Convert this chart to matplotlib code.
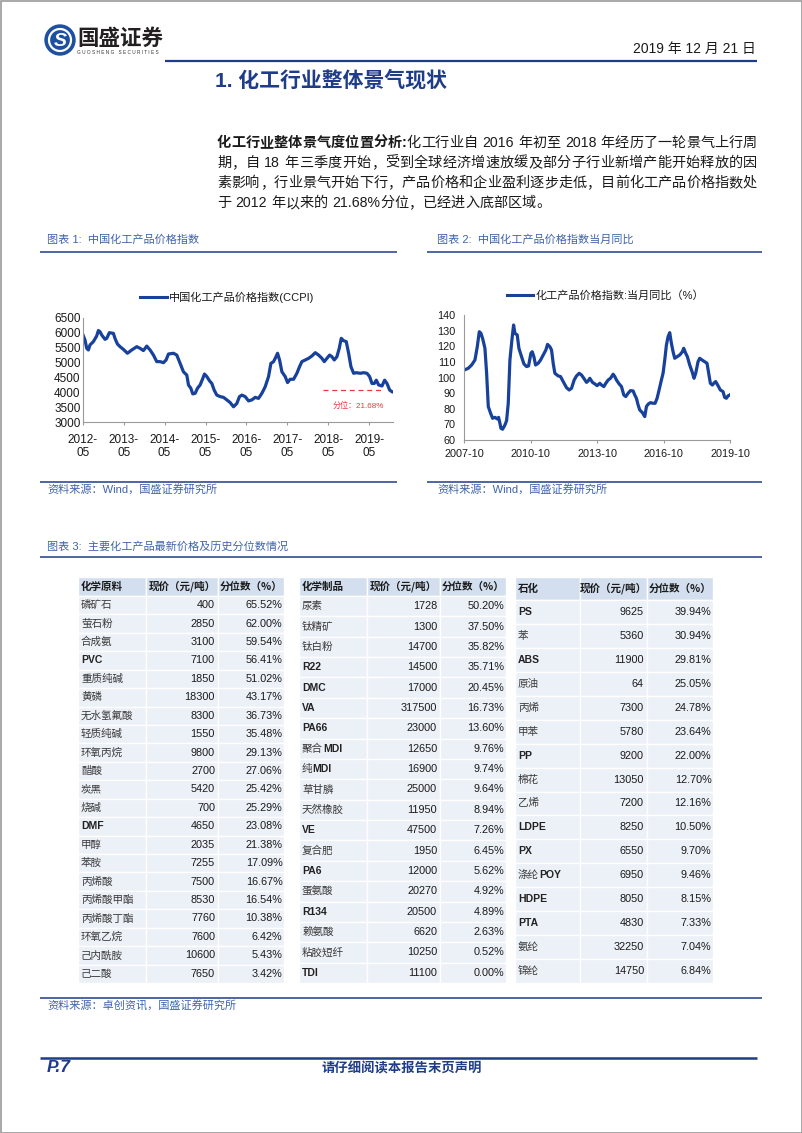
import re
import matplotlib
matplotlib.use('Agg')
import matplotlib.pyplot as plt
from matplotlib.patches import Rectangle, Circle

# ---- data ----
ccpi_t = [0, .057, .098, .139, .179, .261, .342, .383, .424, .465, .546, .587, .652, .750, .791, .848, .913, .994,
          1.092, 1.198, 1.320, 1.402, 1.483, 1.565, 1.646, 1.728, 1.809, 1.891, 1.972, 2.037, 2.095, 2.217, 2.298,
          2.380, 2.461, 2.543, 2.584, 2.641, 2.689, 2.747, 2.804, 2.869, 2.934, 2.975, 3.032, 3.097, 3.154, 3.211,
          3.276, 3.358, 3.439, 3.521, 3.602, 3.684, 3.765, 3.830, 3.888, 3.969, 4.051, 4.132, 4.214, 4.295, 4.377,
          4.458, 4.540, 4.597, 4.662, 4.703, 4.760, 4.809, 4.866, 4.947, 5.004, 5.069, 5.151, 5.232, 5.297, 5.354,
          5.436, 5.518, 5.599, 5.681, 5.762, 5.844, 5.901, 5.966, 6.031, 6.088, 6.145, 6.210, 6.267, 6.316, 6.373,
          6.438, 6.496, 6.553, 6.618, 6.683, 6.781, 6.862, 6.944, 7.009, 7.066, 7.123, 7.172, 7.229, 7.311, 7.376,
          7.433, 7.498, 7.555]
ccpi_v = [5950, 5750, 5475, 5420, 5590, 5700, 5890, 6070, 6030, 5920, 5775, 5810, 6000, 5975, 5800, 5620, 5530, 5440,
          5310, 5420, 5530, 5475, 5400, 5550, 5420, 5250, 5030, 5030, 4995, 5085, 5285, 5310, 5250, 4970, 4690, 4580,
          4250, 4140, 3950, 3970, 4140, 4250, 4470, 4615, 4530, 4390, 4300, 4080, 3910, 3860, 3835, 3750, 3660, 3520,
          3630, 3860, 3910, 3860, 3715, 3750, 3835, 3800, 3970, 4190, 4530, 4970, 5030, 5140, 5310, 5085, 4690, 4530,
          4330, 4440, 4440, 4640, 4860, 5030, 5085, 5140, 5220, 5330, 5250, 5140, 5030, 5140, 5250, 5195, 5085, 5195,
          5475, 5810, 5730, 5700, 5310, 4860, 4640, 4660, 4640, 4660, 4640, 4530, 4300, 4300, 4410, 4250, 4215, 4410,
          4300, 4080, 4025]
ccpi_ticks = ['2012-\n05', '2013-\n05', '2014-\n05', '2015-\n05', '2016-\n05', '2017-\n05', '2018-\n05', '2019-\n05']
pct_level, pct_from, pct_to, pct_text = 4070, 5.86, 7.32, '分位：21.68%'

yoy_t = [0, .180, .331, .481, .586, .677, .752, .827, .932, 1.008, 1.083, 1.188, 1.278, 1.383, 1.489, 1.549, 1.609,
         1.654, 1.729, 1.835, 1.910, 1.985, 2.060, 2.150, 2.226, 2.286, 2.391, 2.466, 2.586, 2.692, 2.812, 2.902,
         3.008, 3.068, 3.143, 3.218, 3.338, 3.444, 3.564, 3.684, 3.759, 3.865, 3.940, 4.015, 4.090, 4.241, 4.346,
         4.466, 4.617, 4.737, 4.842, 4.962, 5.068, 5.188, 5.293, 5.398, 5.519, 5.594, 5.669, 5.789, 5.895, 6.000,
         6.120, 6.195, 6.301, 6.391, 6.496, 6.602, 6.722, 6.797, 6.872, 6.992, 7.098, 7.203, 7.293, 7.398, 7.504,
         7.624, 7.699, 7.774, 7.850, 7.925, 8.045, 8.150, 8.226, 8.301, 8.406, 8.526, 8.617, 8.707, 8.797, 8.902,
         8.977, 9.053, 9.128, 9.203, 9.278, 9.353, 9.429, 9.504, 9.609, 9.729, 9.850, 9.910, 10.000, 10.075, 10.180,
         10.286, 10.376, 10.451, 10.556, 10.632, 10.737, 10.857, 10.962, 11.038, 11.113, 11.203, 11.293, 11.353,
         11.459, 11.564, 11.684, 11.759, 11.835, 11.910, 11.985]
yoy_v = [104.8, 105.9, 108, 111.2, 119.7, 129.3, 128.3, 125, 118.7, 102.7, 81.4, 77.1, 73.9, 74.5, 73.5, 74.5, 70.7,
         67.5, 66.9, 69.6, 72.4, 83.5, 111.2, 124, 133.6, 128.3, 127.2, 118.7, 113.3, 108.7, 107, 107.4, 115.5, 116.5,
         113.3, 108, 109.1, 111.2, 114.4, 117.6, 121.2, 119.7, 117.6, 109.1, 102.7, 101, 100.6, 97.4, 93.5, 92, 93.1,
         98.4, 101, 102.7, 101.6, 99.5, 96.9, 97.8, 99.5, 96.9, 95.9, 94.8, 96.3, 95.2, 94.2, 96.3, 98.4, 99.5, 102.1,
         100.6, 98.4, 95.9, 94.2, 88.8, 87.8, 89.9, 91.6, 91.4, 88.8, 86.7, 82.4, 79.2, 77.5, 75, 81.4, 82.9, 83.9,
         83.5, 83.5, 86.7, 92, 98.4, 102.7, 111.2, 120.8, 126.1, 128.7, 121.9, 116.5, 112.3, 113.3, 114.4, 116.5,
         118.7, 115.5, 113.3, 108, 103.8, 99.5, 102.7, 110.1, 112.3, 111.2, 110.1, 109.1, 102.7, 96.3, 95.2, 96.7,
         97.4, 94.8, 92, 91, 87.3, 86.7, 88.2, 88.8]
yoy_ticks = ['2007-10', '2010-10', '2013-10', '2016-10', '2019-10']

head1 = ['化学原料', '现价（元/吨）', '分位数（%）']
names1 = ['磷矿石', '萤石粉', '合成氨', 'PVC', '重质纯碱', '黄磷', '无水氢氟酸', '轻质纯碱', '环氧丙烷', '醋酸', '炭黑',
          '烧碱', 'DMF', '甲醇', '苯胺', '丙烯酸', '丙烯酸甲酯', '丙烯酸丁酯', '环氧乙烷', '己内酰胺', '己二酸']
price1 = [400, 2850, 3100, 7100, 1850, 18300, 8300, 1550, 9800, 2700, 5420, 700, 4650, 2035, 7255, 7500, 8530, 7760,
          7600, 10600, 7650]
pct1 = [65.52, 62.00, 59.54, 56.41, 51.02, 43.17, 36.73, 35.48, 29.13, 27.06, 25.42, 25.29, 23.08, 21.38, 17.09,
        16.67, 16.54, 10.38, 6.42, 5.43, 3.42]
head2 = ['化学制品', '现价（元/吨）', '分位数（%）']
names2 = ['尿素', '钛精矿', '钛白粉', 'R22', 'DMC', 'VA', 'PA66', '聚合MDI', '纯MDI', '草甘膦', '天然橡胶', 'VE', '复合肥',
          'PA6', '蛋氨酸', 'R134', '赖氨酸', '粘胶短纤', 'TDI']
price2 = [1728, 1300, 14700, 14500, 17000, 317500, 23000, 12650, 16900, 25000, 11950, 47500, 1950, 12000, 20270,
          20500, 6620, 10250, 11100]
pct2 = [50.20, 37.50, 35.82, 35.71, 20.45, 16.73, 13.60, 9.76, 9.74, 9.64, 8.94, 7.26, 6.45, 5.62, 4.92, 4.89, 2.63,
        0.52, 0.00]
head3 = ['石化', '现价（元/吨）', '分位数（%）']
names3 = ['PS', '苯', 'ABS', '原油', '丙烯', '甲苯', 'PP', '棉花', '乙烯', 'LDPE', 'PX', '涤纶POY', 'HDPE', 'PTA', '氨纶', '锦纶']
price3 = [9625, 5360, 11900, 64, 7300, 5780, 9200, 13050, 7200, 8250, 6550, 6950, 8050, 4830, 32250, 14750]
pct3 = [39.94, 30.94, 29.81, 25.05, 24.78, 23.64, 22.00, 12.70, 12.16, 10.50, 9.70, 9.46, 8.15, 7.33, 7.04, 6.84]

para = [[('化工行业整体景气度位置分析:', 'bold'), ('化工行业自 2016 年初至 2018 年经历了一轮景气上行周', 'normal')],
        [('期，自 18 年三季度开始，受到全球经济增速放缓及部分子行业新增产能开始释放的因', 'normal')],
        [('素影响，行业景气开始下行，产品价格和企业盈利逐步走低，目前化工产品价格指数处', 'normal')],
        [('于 2012 年以来的 21.68%分位，已经进入底部区域。', 'normal')]]

# ---- page ----
plt.rcParams['font.family'] = ['Liberation Sans', 'Noto Sans CJK SC']
CJK = ['Noto Sans CJK SC', 'DejaVu Sans']
NARROW = ['Liberation Sans Narrow', 'Liberation Sans', 'Noto Sans CJK SC']
NAVY = '#1F3C88'
LINE = '#17419A'
CAP = '#3F63AC'

fig = plt.figure(figsize=(8.02, 11.33), dpi=100)
pg = fig.add_axes([0, 0, 1, 1])
pg.set_xlim(0, 802); pg.set_ylim(1133, 0); pg.axis('off')
R = fig.canvas.get_renderer()


def t(x, y, s, **kw):
    kw.setdefault('va', 'center')
    return pg.text(x, y, s, **kw)


def hline(y, x0, x1, c=NAVY, lw=1.1):
    pg.plot([x0, x1], [y, y], color=c, lw=lw, solid_capstyle='butt')


def width(s, **kw):
    tx = pg.text(0, 0, s, **kw)
    w = tx.get_window_extent(R).width
    tx.remove()
    return w


def justify(y, segs, x0=217, x1=757, fs=10.2, last=False):
    em = fs * 100 / 72
    toks = [(k, wt) for s, wt in segs for k in re.findall(r'[0-9A-Za-z.%:]+| |.', s)]
    ws = []
    for k, wt in toks:
        if k == ' ':
            ws.append(0.3 * em)
        elif ord(k[0]) > 127:
            ws.append(em)
        else:
            ws.append(width(k, fontsize=fs, weight=wt))
    gap = 0 if last else (x1 - x0 - sum(ws)) / (len(toks) - 1)
    x = x0
    for (k, wt), w in zip(toks, ws):
        if k != ' ':
            t(x, y, k, fontsize=fs, weight=wt, ha='left', color='#1a1a1a')
        x += w + gap


# border
pg.add_patch(Rectangle((0.5, 0.5), 801, 1132, fc='none', ec='#9a9a9a', lw=1.2))

# logo + header
pg.add_patch(Circle((60, 40), 15, color='#1E50A0'))
pg.add_patch(Circle((60, 40), 11, fc='none', ec='white', lw=1.6))
t(60, 41, 'S', fontsize=14, weight='bold', color='white', ha='center', style='italic')
t(77, 38, '国盛证券', fontsize=15.5, weight='bold', family=CJK, color='#231F20')
t(77, 53, 'G U O S H E N G   S E C U R I T I E S', fontsize=3.4, color='#333333')
t(756, 49, '2019 年 12 月 21 日', fontsize=10, ha='right', color='#1a1a1a')
hline(60.5, 165, 757, lw=1.6)
t(215, 80, '1. 化工行业整体景气现状', fontsize=15, weight='bold', color=NAVY)

for i, segs in enumerate(para):
    justify(143 + 20 * i, segs, last=(i == len(para) - 1))

# captions and rules
t(47, 240, '图表 1:  中国化工产品价格指数', fontsize=8, color=CAP)
t(437, 240, '图表 2:  中国化工产品价格指数当月同比', fontsize=8, color=CAP)
hline(252, 40, 397); hline(252, 427, 762)
hline(481.5, 40, 397); hline(481.5, 427, 762)
t(47, 489, '资料来源：Wind，国盛证券研究所', fontsize=8, color=CAP)
t(437, 489, '资料来源：Wind，国盛证券研究所', fontsize=8, color=CAP)
t(47, 546, '图表 3:  主要化工产品最新价格及历史分位数情况', fontsize=8, color=CAP)
hline(557, 40, 762)
hline(998, 40, 762)
t(47, 1006, '资料来源：卓创资讯，国盛证券研究所', fontsize=8, color=CAP)
hline(1057.5, 40, 757, lw=1.8)
t(47, 1068, 'P.7', fontsize=12.5, weight='bold', style='italic', color=NAVY)
t(402, 1068, '请仔细阅读本报告末页声明', fontsize=9.6, weight='bold', family=CJK, color=NAVY, ha='center')


# ---- charts ----
def px_axes(l, top, r, b):
    return fig.add_axes([l / 802, 1 - b / 1133, (r - l) / 802, (b - top) / 1133])


def style(ax, ypad, fs, xpad):
    for s in ['top', 'right']:
        ax.spines[s].set_visible(False)
    for s in ['left', 'bottom']:
        ax.spines[s].set_color('#9a9a9a'); ax.spines[s].set_linewidth(0.8)
    ax.tick_params(axis='both', labelsize=fs, colors='#9a9a9a', labelcolor='#1a1a1a', width=0.8)
    ax.tick_params(axis='y', length=0, pad=ypad)
    ax.tick_params(axis='x', length=2.5, pad=xpad)
    ax.patch.set_alpha(0)


a1 = px_axes(82.7, 317.7, 393, 422.3)
a1.plot(ccpi_t, ccpi_v, color=LINE, lw=2.3, solid_joinstyle='round')
a1.plot([pct_from, pct_to], [pct_level, pct_level], color='#E8383D', lw=0.9, ls=(0, (4, 3)))
a1.text((pct_from + pct_to) / 2 + 0.15, 3540, pct_text, fontsize=5.8, color='#E8383D', ha='center', va='center')
a1.set_xlim(0, 7.58); a1.set_ylim(3000, 6500)
a1.set_yticks(range(3000, 6501, 500))
a1.set_xticks(range(len(ccpi_ticks))); a1.set_xticklabels(ccpi_ticks, linespacing=1.1)
style(a1, 1.5, 8.5, 6)
pg.plot([140, 167], [297, 297], color=LINE, lw=2.2)
t(169, 297, '中国化工产品价格指数(CCPI)', fontsize=8, color='#1a1a1a')

a2 = px_axes(464.3, 315, 730, 440)
a2.plot(yoy_t, yoy_v, color=LINE, lw=2.3, solid_joinstyle='round')
a2.set_xlim(0, 12); a2.set_ylim(60, 140)
a2.set_yticks(range(60, 141, 10))
a2.set_xticks(range(0, 13, 3)); a2.set_xticklabels(yoy_ticks)
style(a2, 6.5, 7.8, 4)
pg.plot([507, 533], [295, 295], color=LINE, lw=2.2)
t(536, 295, '化工产品价格指数:当月同比（%）', fontsize=8, color='#1a1a1a')

# ---- tables ----
HEAD = '#D3DFEF'
ROW = '#ECF0F7'


def label(x, y, s):
    cj, asc = re.match(r'([^\x00-\x7f]*)(.*)', s).groups()
    if cj:
        t(x, y, cj, fontsize=7.6, family=CJK, color='#3a3a3a')
        x += len(cj) * 7.6 * 100 / 72
    if asc:
        t(x, y, asc, fontsize=7.5, family=NARROW, weight='bold', color='#222222')


def table(xs, yh, y1, head, names, prices, pcts, y0=577):
    rh = (y1 - yh) / len(names)
    for c in range(3):
        pg.add_patch(Rectangle((xs[c], y0), xs[c + 1] - xs[c], yh - y0, fc=HEAD, ec='white', lw=1))
    ym = (y0 + yh) / 2
    t(xs[0] + 3, ym, head[0], fontsize=7.6, weight='bold', family=CJK, color='#1a1a1a')
    for c in (1, 2):
        t((xs[c] + xs[c + 1]) / 2, ym, head[c], fontsize=7.6, weight='bold', family=CJK, color='#1a1a1a',
          ha='center')
    for i, (nm, pr, pc) in enumerate(zip(names, prices, pcts)):
        top = yh + i * rh
        for c in range(3):
            pg.add_patch(Rectangle((xs[c], top), xs[c + 1] - xs[c], rh, fc=ROW, ec='white', lw=1))
        yc = top + rh / 2
        label(xs[0] + 3, yc, nm)
        t(xs[2] - 3, yc, f'{pr}', fontsize=7.8, family=NARROW, ha='right', color='#1a1a1a')
        t(xs[3] - 1.5, yc, f'{pc:.2f}%', fontsize=7.8, family=NARROW, ha='right', color='#1a1a1a')


table([78, 146, 218, 284], 596, 983, head1, names1, price1, pct1)
table([299, 367, 440, 506], 596, 983, head2, names2, price2, pct2)
table([515, 580, 647, 713], 600, 983, head3, names3, price3, pct3)

fig.savefig('out.png', dpi=100)
